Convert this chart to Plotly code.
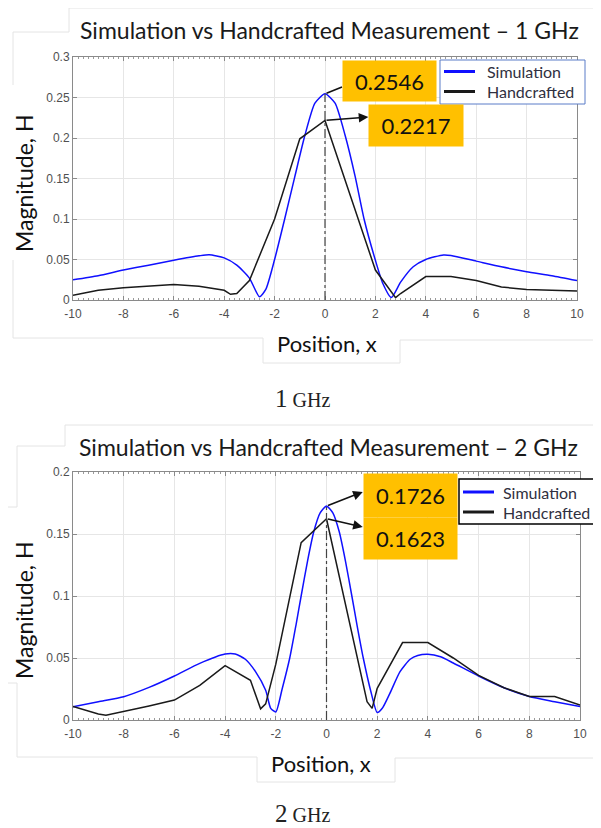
import plotly.graph_objects as go

# ---------------- data ----------------
x_sim_1 = [-10, -9, -8, -7, -6, -5, -4.6, -4, -3.5, -3, -2.6, -2.35, -2, -1.6, -1.2, -0.8, -0.4, 0,
           0.4, 0.8, 1.2, 1.55, 2.0, 2.3, 2.63, 3, 3.5, 4, 4.7, 5, 6, 7, 8, 9, 10]
y_sim_1 = [0.025, 0.030, 0.037, 0.043, 0.049, 0.0545, 0.056, 0.052, 0.043, 0.027, 0.004, 0.013, 0.05, 0.1,
           0.152, 0.203, 0.243, 0.2546, 0.243, 0.203, 0.152, 0.1, 0.049, 0.02, 0.003, 0.022, 0.041, 0.050,
           0.0556, 0.055, 0.048, 0.041, 0.035, 0.030, 0.024]
x_hand_1 = [-10, -9, -8, -7, -6, -5, -4, -3.75, -3.5, -3, -2, -1, 0, 2, 2.8, 3, 4, 5, 6, 7, 8, 9, 10]
y_hand_1 = [0.006, 0.012, 0.015, 0.017, 0.019, 0.017, 0.012, 0.007, 0.008, 0.024, 0.1, 0.199, 0.2217,
            0.037, 0.003, 0.008, 0.029, 0.029, 0.024, 0.016, 0.013, 0.012, 0.011]

x_sim_2 = [-10, -9, -8, -7, -6, -5, -4, -3.6, -3.2, -2.8, -2.4, -2.2, -2.0, -1.75, -1.45, -1.2, -1.0, -0.75,
           -0.5, -0.25, 0, 0.25, 0.5, 0.75, 1.0, 1.2, 1.45, 1.75, 2.0, 2.2, 2.5, 2.9, 3.3, 3.6, 4, 4.5, 5,
           6, 7, 8, 9, 10]
y_sim_2 = [0.0107, 0.0148, 0.0188, 0.0263, 0.0355, 0.0457, 0.0532, 0.0532, 0.049, 0.039, 0.024, 0.0094,
           0.0065, 0.025, 0.05, 0.077, 0.1, 0.128, 0.152, 0.167, 0.1726, 0.167, 0.152, 0.128, 0.1, 0.077,
           0.05, 0.023, 0.006, 0.0094, 0.0215, 0.039, 0.049, 0.052, 0.053, 0.051, 0.046, 0.0355, 0.026,
           0.019, 0.0148, 0.0108]
x_hand_2 = [-10, -9, -8.7, -8, -7, -6, -5, -4, -3, -2.6, -2.4, -2, -1, 0, 1.6, 1.8, 2, 3, 4, 5, 6, 7, 8, 9, 10]
y_hand_2 = [0.011, 0.0048, 0.0038, 0.0067, 0.0113, 0.0161, 0.028, 0.0438, 0.032, 0.009, 0.013, 0.045,
            0.143, 0.1623, 0.0148, 0.0094, 0.0255, 0.0624, 0.0624, 0.050, 0.036, 0.026, 0.019, 0.019, 0.012]

series_names = ["Simulation", "Handcrafted"]

x_ticks = [-10, -8, -6, -4, -2, 0, 2, 4, 6, 8, 10]
x_ticktext = ["-10", "-8", "-6", "-4", "-2", "0", "2", "4", "6", "8", "10"]
y_ticks_1 = [0, 0.05, 0.1, 0.15, 0.2, 0.25, 0.3]
y_ticktext_1 = ["0", "0.05", "0.1", "0.15", "0.2", "0.25", "0.3"]
y_ticks_2 = [0, 0.05, 0.1, 0.15, 0.2]
y_ticktext_2 = ["0", "0.05", "0.1", "0.15", "0.2"]

labels_1 = ["0.2546", "0.2217"]
labels_2 = ["0.1726", "0.1623"]

# ---------------- figure ----------------
# the page body has an 8px margin, so the figure is drawn 8px smaller and
# screen positions are converted by subtracting that offset
OFF = 8
W, H = 601 - OFF, 828 - OFF
def fx(p):
    return (p - OFF) / W
def fy(p):
    return 1 - (p - OFF) / H

BLUE = "#1010ff"
BLACK = "#1a1a1a"
SANS = "Lato, Open Sans, sans-serif"

fig = go.Figure()
fig.add_trace(go.Scatter(x=x_sim_1, y=y_sim_1, mode="lines", name=series_names[0], showlegend=False,
                         line=dict(color=BLUE, width=1.5, shape="spline", smoothing=0.6),
                         xaxis="x", yaxis="y"))
fig.add_trace(go.Scatter(x=x_hand_1, y=y_hand_1, mode="lines", name=series_names[1], showlegend=False,
                         line=dict(color=BLACK, width=1.5), xaxis="x", yaxis="y"))
fig.add_trace(go.Scatter(x=x_sim_2, y=y_sim_2, mode="lines", name=series_names[0], showlegend=False,
                         line=dict(color=BLUE, width=1.5, shape="spline", smoothing=0.6),
                         xaxis="x2", yaxis="y2"))
fig.add_trace(go.Scatter(x=x_hand_2, y=y_hand_2, mode="lines", name=series_names[1], showlegend=False,
                         line=dict(color=BLACK, width=1.5), xaxis="x2", yaxis="y2"))

tickfont = dict(family="Liberation Sans, Arial", size=12, color="#505050")

def xax(domain, anchor):
    return dict(domain=domain, anchor=anchor, range=[-10, 10], tickvals=x_ticks, ticktext=x_ticktext,
                showgrid=True, gridcolor="#e6e6e6", gridwidth=1, zeroline=False,
                showline=True, linecolor="#8a8a8a", linewidth=1, mirror="ticks",
                ticks="inside", ticklen=4, tickcolor="#8a8a8a", ticklabelstandoff=3,
                minor=dict(ticks="inside", ticklen=2, dtick=0.2, tickcolor="#9a9a9a", showgrid=False),
                tickfont=tickfont, fixedrange=True, automargin=False)

def yax(domain, anchor, rng, tv, tt):
    return dict(domain=domain, anchor=anchor, range=rng, tickvals=tv, ticktext=tt,
                showgrid=True, gridcolor="#e6e6e6", gridwidth=1, zeroline=False,
                showline=True, linecolor="#8a8a8a", linewidth=1, mirror="ticks",
                ticks="inside", ticklen=4, tickcolor="#8a8a8a",
                tickfont=tickfont, fixedrange=True, automargin=False)

fig.update_layout(
    width=W, height=H, margin=dict(l=0, r=0, t=0, b=0, autoexpand=False),
    paper_bgcolor="white", plot_bgcolor="white", showlegend=False,
    xaxis=xax([fx(73), fx(577)], "y"),
    yaxis=yax([fy(300), fy(57)], "x", [0, 0.3], y_ticks_1, y_ticktext_1),
    xaxis2=xax([fx(73), fx(580)], "y2"),
    yaxis2=yax([fy(720), fy(472)], "x2", [0, 0.2], y_ticks_2, y_ticktext_2),
)

shapes = []
ann = []
# faint screenshot box edges
faint = "#e4e4e4"
segs = [
    (69, 8, 601, 8), (69, 8, 69, 32), (13, 32, 69, 32), (13, 32, 13, 85),
    (13, 260, 13, 338), (13, 338, 263, 338), (263, 338, 263, 363),
    (263, 363, 400, 363), (400, 340, 400, 363), (400, 340, 601, 340),
    (65, 425, 601, 425), (65, 425, 65, 446), (17, 446, 65, 446), (17, 446, 17, 507), (8, 507, 17, 507),
    (17, 683, 17, 757), (8, 683, 17, 683), (17, 757, 257, 757), (257, 757, 257, 782),
    (257, 782, 395, 782), (395, 758, 395, 782), (395, 758, 601, 758),
]
for (a, b, c, d) in segs:
    shapes.append(dict(type="line", xref="paper", yref="paper", x0=fx(a), y0=fy(b), x1=fx(c), y1=fy(d),
                       line=dict(color=faint, width=1), layer="below"))
# dash-dot centre lines
shapes.append(dict(type="line", xref="x", yref="y", x0=0, x1=0, y0=0, y1=max(y_sim_1),
                   line=dict(color="#444444", width=1.2, dash="dashdot")))
shapes.append(dict(type="line", xref="x2", yref="y2", x0=0, x1=0, y0=0, y1=max(y_sim_2),
                   line=dict(color="#444444", width=1.2, dash="dashdot")))

# legends (box, line samples and names)
legends = [
    dict(box=(440, 60, 585, 104), border="#5a7cc8", bw=1, sx=(444, 475), rows=(71.5, 91.5), tx=485),
    dict(box=(459, 479, 612, 524), border="#000000", bw=1.5, sx=(463, 494), rows=(492, 512), tx=501),
]
for lg in legends:
    x0, y0, x1, y1 = lg["box"]
    shapes.append(dict(type="rect", xref="paper", yref="paper", x0=fx(x0), y0=fy(y0), x1=fx(x1), y1=fy(y1),
                       fillcolor="white", line=dict(color=lg["border"], width=lg["bw"])))
    for name, col, ry in zip(series_names, (BLUE, BLACK), lg["rows"]):
        shapes.append(dict(type="line", xref="paper", yref="paper", x0=fx(lg["sx"][0]), x1=fx(lg["sx"][1]),
                           y0=fy(ry), y1=fy(ry), line=dict(color=col, width=3)))
        ann.append(dict(text=name, xref="paper", yref="paper", x=fx(lg["tx"]), y=fy(ry),
                        xanchor="left", yanchor="middle", showarrow=False,
                        font=dict(family=SANS, size=16, color="#303040")))
fig.update_layout(shapes=shapes)

# titles
ann.append(dict(text="Simulation vs Handcrafted Measurement \u2013 1 GHz", xref="paper", yref="paper",
                x=fx(329), y=fy(30), xanchor="center", yanchor="middle", showarrow=False,
                font=dict(family=SANS, size=23, color="#1a1a1a")))
ann.append(dict(text="Simulation vs Handcrafted Measurement \u2013 2 GHz", xref="paper", yref="paper",
                x=fx(328), y=fy(447), xanchor="center", yanchor="middle", showarrow=False,
                font=dict(family=SANS, size=23, color="#1a1a1a")))
# axis labels
for yc in (183, 610):
    ann.append(dict(text="Magnitude, H", xref="paper", yref="paper", x=fx(24), y=fy(yc),
                    xanchor="center", yanchor="middle", textangle=-90, showarrow=False,
                    font=dict(family=SANS, size=23, color="#111111")))
for (xc, yc) in ((327, 344), (321, 763)):
    ann.append(dict(text="Position, x", xref="paper", yref="paper", x=fx(xc), y=fy(yc),
                    xanchor="center", yanchor="middle", showarrow=False,
                    font=dict(family=SANS, size=22, color="#111111")))
# captions
for (t, yc) in (("1", 398), ("2", 813)):
    ann.append(dict(text='<span style="font-size:25px">' + t + '</span> GHz', xref="paper", yref="paper",
                    x=fx(302), y=fy(yc), xanchor="center", yanchor="middle", showarrow=False,
                    font=dict(family="Liberation Serif, Times New Roman, serif", size=20, color="#222222")))

# arrows from peaks to labels
ann.append(dict(text="", x=0.675, y=0.263, xref="x", yref="y", ax=0, ay=max(y_sim_1),
                axref="x", ayref="y", showarrow=True, arrowhead=0, arrowwidth=1.6, arrowcolor="#111"))
ann.append(dict(text="", x=1.72, y=0.2259, xref="x", yref="y", ax=0, ay=max(y_hand_1),
                axref="x", ayref="y", showarrow=True, arrowhead=2, arrowsize=1.2, arrowwidth=1.6,
                arrowcolor="#111"))
ann.append(dict(text="", x=1.43, y=0.1839, xref="x2", yref="y2", ax=0, ay=max(y_sim_2),
                axref="x2", ayref="y2", showarrow=True, arrowhead=2, arrowsize=1.2, arrowwidth=1.6,
                arrowcolor="#111"))
ann.append(dict(text="", x=1.43, y=0.1556, xref="x2", yref="y2", ax=0, ay=max(y_hand_2),
                axref="x2", ayref="y2", showarrow=True, arrowhead=2, arrowsize=1.2, arrowwidth=1.6,
                arrowcolor="#111"))

# orange value boxes
boxes = [(labels_1[0], 342, 60, 93, 40), (labels_1[1], 368, 104, 94, 41),
         (labels_2[0], 363, 473, 93, 43), (labels_2[1], 363, 517, 93, 41)]
for (t, bx, by, bw, bh) in boxes:
    ann.append(dict(text=t, xref="paper", yref="paper", x=fx(bx), y=fy(by), xanchor="left", yanchor="top",
                    width=bw, height=bh, borderpad=0, bgcolor="#FFC000", showarrow=False,
                    align="center", valign="middle",
                    font=dict(family=SANS, size=22, color="#111111")))
fig.update_layout(annotations=ann)

fig.write_html("out.html")
